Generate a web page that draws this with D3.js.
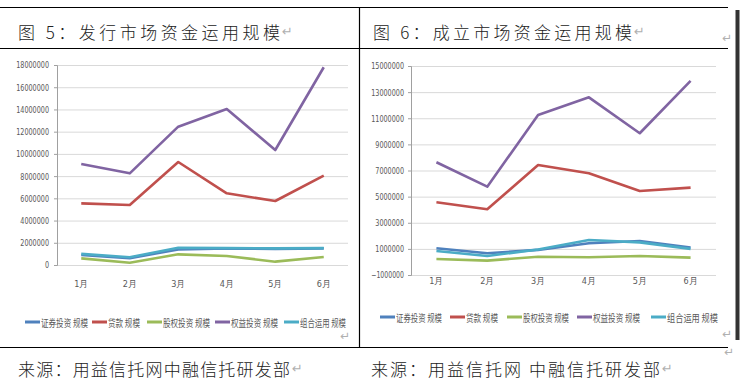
<!DOCTYPE html>
<html><head><meta charset="utf-8">
<script src="https://cdn.jsdelivr.net/npm/d3@7"></script>
<style>
html,body{margin:0;padding:0;background:#fff;}
svg{display:block;}
.tick text{font-family:"Liberation Sans Narrow","DejaVu Sans Condensed","Liberation Sans",Arial,sans-serif;font-size:9px;fill:#595959;}
</style></head>
<body>
<script>
// ---- data ----
const months = ["1月","2月","3月","4月","5月","6月"];
const seriesNames = ["证券投资 规模","贷款 规模","股权投资 规模","权益投资 规模","组合运用 规模"];
const seriesColors = ["#4F81BD","#C0504D","#9BBB59","#8064A2","#4BACC6"];

// 图5 发行市场
const sec5    = [900000, 620000, 1400000, 1500000, 1450000, 1500000];
const loan5   = [5550000, 5400000, 9270000, 6450000, 5760000, 8040000];
const equity5 = [600000, 200000, 960000, 810000, 300000, 720000];
const rights5 = [9090000, 8250000, 12450000, 14040000, 10350000, 17800000];
const combo5  = [1000000, 700000, 1550000, 1520000, 1500000, 1520000];
const ticks5  = [0,2000000,4000000,6000000,8000000,10000000,12000000,14000000,16000000,18000000];

// 图6 成立市场
const sec6    = [1050000, 670000, 920000, 1430000, 1600000, 1100000];
const loan6   = [4570000, 4030000, 7420000, 6790000, 5430000, 5690000];
const equity6 = [230000, 100000, 400000, 360000, 460000, 330000];
const rights6 = [7630000, 5760000, 11250000, 12600000, 9850000, 13860000];
const combo6  = [840000, 460000, 950000, 1680000, 1500000, 1000000];
const ticks6  = [-1000000,1000000,3000000,5000000,7000000,9000000,11000000,13000000,15000000];

const W = 740, H = 388;
const svg = d3.select("body").append("svg").attr("width", W).attr("height", H);

// ---- table frame ----
const frame = svg.append("g").attr("stroke","#000").attr("stroke-width",1.2);
frame.append("line").attr("x1",0).attr("x2",728).attr("y1",7.5).attr("y2",7.5);
frame.append("line").attr("x1",0).attr("x2",728).attr("y1",48.5).attr("y2",48.5);
frame.append("line").attr("x1",0).attr("x2",728).attr("y1",347.5).attr("y2",347.5);
frame.append("line").attr("x1",359.5).attr("x2",359.5).attr("y1",7).attr("y2",348);
svg.append("line").attr("x1",737.5).attr("x2",737.5).attr("y1",10).attr("y2",340)
  .attr("stroke","#333").attr("stroke-width",4);

const cjk = '"Noto Sans CJK SC","Noto Sans CJK JP",sans-serif';
function bigText(x, y, str, len){
  svg.append("text").attr("x",x).attr("y",y).attr("dominant-baseline","central")
    .attr("font-family",cjk).attr("font-size",17).attr("font-weight",300).attr("fill","#222")
    .attr("textLength",len).attr("lengthAdjust","spacing").text(str);
}
function ret(x, y, size){
  svg.append("text").attr("x",x).attr("y",y).attr("dominant-baseline","central")
    .attr("font-family","DejaVu Sans").attr("font-size",size||13).attr("fill","#b0b0b0").text("↵");
}
bigText(18, 31, "图 5：发行市场资金运用规模", 262); ret(282, 31);
bigText(373, 31, "图 6：成立市场资金运用规模", 259); ret(634, 31);
bigText(18, 368, "来源：用益信托网中融信托研发部", 272); ret(292, 368);
bigText(371, 368, "来源：用益信托网 中融信托研发部", 289); ret(662, 368);
ret(340, 336, 12); ret(722, 334, 12); ret(724, 352, 12); ret(722, 38, 12);

// ---- chart ----
function drawChart(cfg){
  const g = svg.append("g");
  const x = d3.scaleBand().domain(months).range([cfg.x0, cfg.x1]);
  const y = d3.scaleLinear().domain(cfg.domain).range([cfg.yb, cfg.yt]);
  // gridlines
  g.append("g").attr("transform",`translate(${cfg.x0},0)`)
    .call(d3.axisLeft(y).tickValues(cfg.ticks).tickSize(-(cfg.x1-cfg.x0)).tickFormat(""))
    .call(s=>s.select(".domain").remove())
    .call(s=>s.selectAll("line").attr("stroke","#d9d9d9"));
  // y axis
  g.append("g").attr("transform",`translate(${cfg.x0},0)`)
    .call(d3.axisLeft(y).tickValues(cfg.ticks).tickSize(3).tickPadding(cfg.pad).tickFormat(d3.format("d")))
    .call(s=>s.select(".domain").attr("stroke","#a0a0a0"))
    .call(s=>s.selectAll(".tick line").attr("stroke","#a0a0a0"))
    .call(s=>s.selectAll(".tick text").each(function(){
      const t = d3.select(this); const n = t.text().length;
      t.attr("textLength", n*4.1).attr("lengthAdjust","spacingAndGlyphs");
    }));
  // x labels
  g.append("g").attr("transform",`translate(0,${cfg.xl})`)
    .call(d3.axisBottom(x).tickSize(0).tickPadding(0))
    .call(s=>s.select(".domain").remove())
    .call(s=>s.selectAll("text").attr("dy","0.35em").attr("y",0)
      .attr("font-family",'"Noto Sans CJK SC",sans-serif').attr("font-size",10).attr("fill","#595959"));
  // lines
  const line = d3.line().x((d,i)=>x(months[i])+x.bandwidth()/2).y(d=>y(d));
  cfg.series.forEach((s,k)=>{
    g.append("path").datum(s).attr("d",line).attr("fill","none")
      .attr("stroke",seriesColors[k]).attr("stroke-width",2.6).attr("stroke-linejoin","round");
  });
  // legend
  const lg = g.append("g");
  seriesNames.forEach((n,k)=>{
    const lx = cfg.legX[k];
    lg.append("line").attr("x1",lx).attr("x2",lx+15).attr("y1",cfg.legY).attr("y2",cfg.legY)
      .attr("stroke",seriesColors[k]).attr("stroke-width",3);
    lg.append("text").attr("x",lx+16).attr("y",cfg.legY).attr("dominant-baseline","central")
      .attr("font-family",cjk).attr("font-size",10).attr("fill","#595959")
      .attr("textLength",cfg.legW[k]).attr("lengthAdjust","spacingAndGlyphs").text(n);
  });
}

drawChart({x0:57, x1:348, yt:65, yb:265, domain:[0,18000000], ticks:ticks5, pad:5, xl:284,
  series:[sec5,loan5,equity5,rights5,combo5],
  legX:[25,92,147,215,284], legW:[47,32,47,47,46], legY:322});
drawChart({x0:411, x1:716, yt:66, yb:275, domain:[-1000000,15000000], ticks:ticks6, pad:4, xl:281,
  series:[sec6,loan6,equity6,rights6,combo6],
  legX:[380,450,507,577,651], legW:[46,32,46,47,51], legY:317});
</script>
</body></html>
